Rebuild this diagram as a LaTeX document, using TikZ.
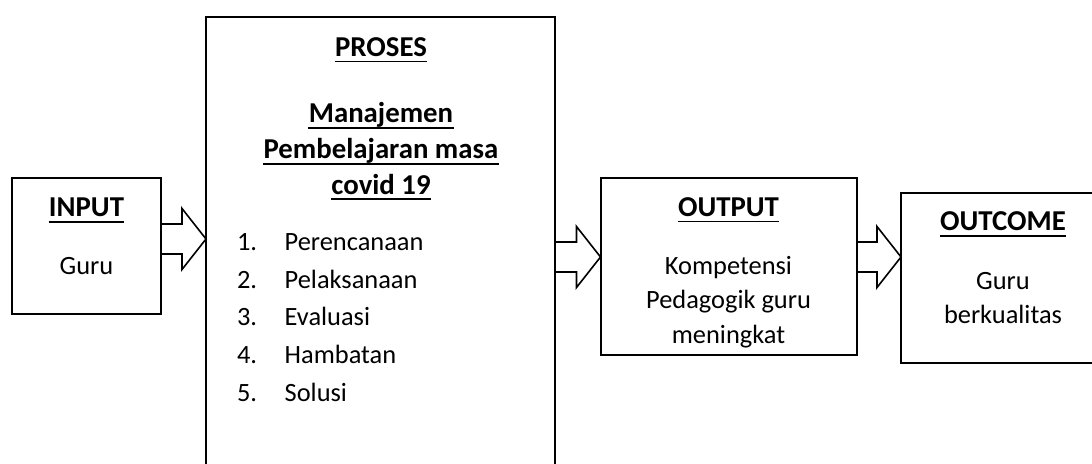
\documentclass[tikz,border=0pt]{standalone}
\usepackage{fontspec}
\setmainfont{Carlito}
\usetikzlibrary{calc}
% blok panah dari kotak #1 ke kotak #2 pada tinggi #3
\newcommand{\panah}[3]{%
  \coordinate (p0) at (#1.east |- 0,#3);
  \coordinate (p1) at (#2.west |- 0,#3);
  \draw[panahblok] ($(p0)+(0,-15)$) -- ($(p1)+(-24,-15)$) -- ($(p1)+(-24,-30.5)$)
    -- (p1) -- ($(p1)+(-24,30.5)$) -- ($(p1)+(-24,15)$) -- ($(p0)+(0,15)$);
}
\tikzset{
  kotak/.style={draw, line width=1pt, anchor=north west, inner sep=0pt, outer sep=0pt},
  judul/.style={font=\fontsize{14.4}{17}\selectfont\bfseries, anchor=base, inner sep=0pt},
  isi/.style={font=\fontsize{13.2}{17}\selectfont, anchor=base, inner sep=0pt},
  garisbawah/.style={line width=0.9pt},
  panahblok/.style={line width=0.8pt, line join=miter}
}
\begin{document}
\begin{tikzpicture}[x=0.5pt, y=-0.5pt]
  \useasboundingbox (0,0) rectangle (1092,464);
  \clip (0,0) rectangle (1092,464);
  % kotak
  \node[kotak, minimum width=74.5pt, minimum height=68pt] (input) at (12,178) {};
  \node[kotak, minimum width=174.5pt, minimum height=235pt] (proses) at (206,17) {};
  \node[kotak, minimum width=128pt, minimum height=88.5pt] (output) at (600.5,178) {};
  \node[kotak, minimum width=110pt, minimum height=85pt] (outcome) at (901,193) {};
  % INPUT
  \node[judul] (t-input) at (86.5,217) {INPUT};
  \node[isi] (guru) at (86.5,275) {Guru};
  % PROSES
  \node[judul] (t-proses) at (381,56.7) {PROSES};
  \node[judul] (m1) at (381,123) {Manajemen};
  \node[judul] (m2) at (381,159) {Pembelajaran masa};
  \node[judul] (m3) at (381,194.5) {covid 19};
  \foreach \i/\teks/\y in {1/Perencanaan/250.7, 2/Pelaksanaan/288.3, 3/Evaluasi/326,
                           4/Hambatan/363.3, 5/Solusi/401} {
    \node[isi, anchor=base west] (no\i) at (236.7,\y) {\i.};
    \node[isi, anchor=base west] (l\i) at (284.3,\y) {\teks};
  }
  % OUTPUT
  \node[judul] (t-output) at (728.5,216.7) {OUTPUT};
  \node[isi] (o1) at (728.5,275) {Kompetensi};
  \node[isi] (o2) at (728.5,309) {Pedagogik guru};
  \node[isi] (o3) at (728.5,344) {meningkat};
  % OUTCOME
  \node[judul] (t-outcome) at (1003,231) {OUTCOME};
  \node[isi] (h1) at (1003,290) {Guru};
  \node[isi] (h2) at (1003,324) {berkualitas};
  % garis bawah judul
  \foreach \n in {t-input, t-proses, m1, m2, m3, t-output, t-outcome}
    \draw[garisbawah] ([yshift=-2.4pt]\n.base west) -- ([yshift=-2.4pt]\n.base east);
  % panah
  \panah{input}{proses}{239}
  \panah{proses}{output}{257}
  \panah{output}{outcome}{257}
\end{tikzpicture}
\end{document}
